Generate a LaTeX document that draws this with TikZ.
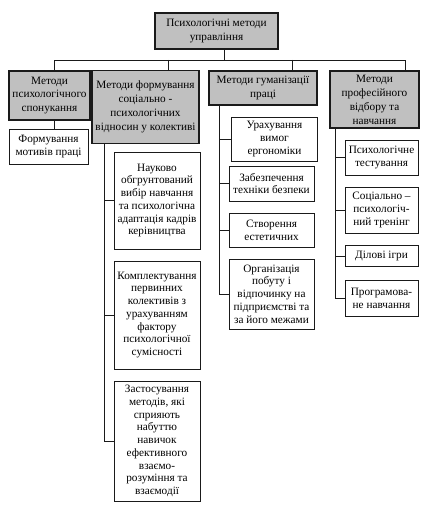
\documentclass[tikz,border=0pt]{standalone}
\usepackage{fontspec}
\setmainfont{Liberation Serif}
\definecolor{boxgray}{HTML}{C0C0C0}
\definecolor{ink}{HTML}{1A1A1A}
\begin{document}
\begin{tikzpicture}[x=1bp,y=-1bp,
  base/.style={draw=ink, align=center, inner xsep=1bp, inner ysep=0bp, font=\fontsize{11.3}{12.8}\selectfont},
  topbox/.style={base, fill=boxgray, line width=2bp, font=\fontsize{11.3}{14}\selectfont},
  midbox/.style={base, fill=boxgray, line width=1.2bp, font=\fontsize{11.3}{14}\selectfont},
  leaf/.style={base, fill=white, line width=0.9bp},
  conn/.style={draw=ink, line width=0.8bp},
  sz/.style 2 args={minimum width=#1bp, minimum height=#2bp}]
\useasboundingbox (0,0) rectangle (435,513);
\fill[white] (0,0) rectangle (435,513);

% top
\node[topbox, sz={123}{36}] (top) at (216.5,31) {Психологічні методи\\управління};

% level 1
\node[midbox, sz={81}{49}]  (m1) at (49.5,95.5) {Методи\\психологічного\\спонукання};
\node[midbox, sz={107}{73}] (m2) at (145.5,107) {Методи формування\\соціально -\\психологічних\\відносин у колективі};
\node[midbox, sz={108}{34}] (m3) at (263,88) {Методи гуманізації\\праці};
\node[midbox, sz={89}{57}]  (m4) at (374.5,99.5) {Методи\\професійного\\відбору та\\навчання};

% level 2 under m1
\node[leaf, sz={79}{35}] (c11) at (48.5,146.5) {Формування\\мотивів праці};

% under m2
\node[leaf, sz={86}{97}]  (c21) at (157,200.5) {Науково\\обгрунтований\\вибір навчання\\та психологічна\\адаптація кадрів\\керівництва};
\node[leaf, sz={86}{108}] (c22) at (157,315) {Комплектування\\первинних\\колективів з\\урахуванням\\фактору\\психологічної\\сумісності};
\node[leaf, sz={86}{120}] (c23) at (157,441) {Застосування\\методів, які\\сприяють\\набуттю\\навичок\\ефективного\\взаємо-\\розуміння та\\взаємодії};

% under m3
\node[leaf, sz={86}{44}] (c31) at (274.5,139) {Урахування\\вимог\\ергономіки};
\node[leaf, sz={85}{35}] (c32) at (271.5,183.5) {Забезпечення\\техніки безпеки};
\node[leaf, sz={85}{34}] (c33) at (271.5,230) {Створення\\естетичних};
\node[leaf, sz={85}{70}] (c34) at (271.5,294) {Організація\\побуту і\\відпочинку на\\підприємстві та\\за його межами};

% under m4
\node[leaf, sz={73}{35}] (c41) at (381.5,157.5) {Психологічне\\тестування};
\node[leaf, sz={73}{46}] (c42) at (381.5,210) {Соціально –\\психологіч-\\ний тренінг};
\node[leaf, sz={73}{21}] (c43) at (381.5,256) {Ділові ігри};
\node[leaf, sz={73}{36}] (c44) at (381.5,298) {Програмова-\\не навчання};

% bus
\coordinate (bus) at (224,60);
\coordinate (t1) at (54,60);
\coordinate (t2) at (168,60);
\coordinate (t3) at (292,60);
\coordinate (t4) at (405,60);
\draw[conn] (top.south -| bus) -- (bus);
\draw[conn] (t1 |- m1.north) -- (t1) -- (t4) -- (t4 |- m4.north);
\draw[conn] (t2) -- (t2 |- m2.north);
\draw[conn] (t3) -- (t3 |- m3.north);

% trunks
\coordinate (v1) at (54,0);
\coordinate (v2) at (104,0);
\coordinate (v3) at (219,0);
\coordinate (v4) at (335,0);
\draw[conn] (v1 |- m1.south) -- (v1 |- c11.north);
\draw[conn] (v2 |- m2.south) |- (c23.west);
\draw[conn] (v2 |- c21.west) -- (c21.west);
\draw[conn] (v2 |- c22.west) -- (c22.west);
\draw[conn] (v3 |- m3.south) |- (c34.west);
\draw[conn] (v3 |- c31.west) -- (c31.west);
\draw[conn] (v3 |- c32.west) -- (c32.west);
\draw[conn] (v3 |- c33.west) -- (c33.west);
\draw[conn] (v4 |- m4.south) |- (c44.west);
\draw[conn] (v4 |- c41.west) -- (c41.west);
\draw[conn] (v4 |- c42.west) -- (c42.west);
\draw[conn] (v4 |- c43.west) -- (c43.west);
\end{tikzpicture}
\end{document}
